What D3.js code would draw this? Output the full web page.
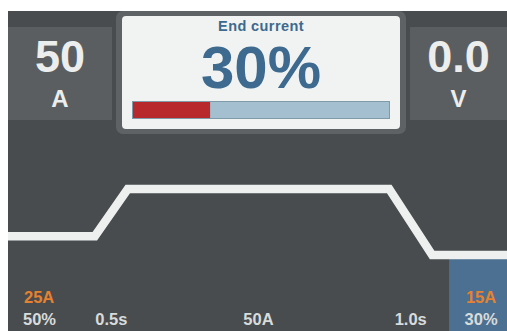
<!DOCTYPE html>
<html><head><meta charset="utf-8">
<script src="https://cdn.jsdelivr.net/npm/d3@7"></script>
<style>html,body{margin:0;padding:0;background:#fff;overflow:hidden}svg{display:block}text{font-family:"Liberation Sans",Arial,sans-serif;font-weight:700}</style>
</head><body><div id="c"></div>
<script>
// Weld current profile (schematic x in % of panel width, current in A)
const profileX = [0, 17.4, 24.0, 76.4, 85.0, 100];
const profileA = [25, 25, 50, 50, 15, 15];
const startCurrent = 25, startPct = "50%";
const upslope = "0.5s", mainCurrent = "50A", downslope = "1.0s";
const endCurrent = 15, endPct = 30;
const readoutCurrent = "50", readoutCurrentUnit = "A";
const readoutVoltage = "0.0", readoutVoltageUnit = "V";
const title = "End current";

const W = 507, H = 331;
const svg = d3.select("#c").append("svg").attr("width", W).attr("height", H);
const panelX = 8, panelY = 11;
svg.append("rect").attr("x", panelX).attr("y", panelY).attr("width", W - panelX).attr("height", H - panelY).attr("fill", "#494c4e");

const x = d3.scaleLinear().domain([0, 100]).range([panelX, W]);
const y = d3.scaleLinear().domain([15, 50]).range([255, 189]);
const pts = profileX.map((v, i) => [x(v), y(profileA[i])]);

// selected end-current region
const endStart = 88.4;
svg.append("rect").attr("x", x(endStart)).attr("y", y(endCurrent) + 4)
  .attr("width", x(100) - x(endStart)).attr("height", H - y(endCurrent) - 4).attr("fill", "#4b7092");

svg.append("path").attr("d", d3.line()(pts)).attr("fill", "none")
  .attr("stroke", "#eef0ef").attr("stroke-width", 8.5).attr("stroke-linejoin", "miter");

// side readouts
function readout(bx, bw, val, unit) {
  svg.append("rect").attr("x", bx).attr("y", 27).attr("width", bw).attr("height", 93).attr("fill", "#5b5e60");
  svg.append("text").attr("x", bx + bw / 2).attr("y", 72).attr("text-anchor", "middle").attr("font-size", 45).attr("fill", "#eceeed").text(val);
  svg.append("text").attr("x", bx + bw / 2).attr("y", 107).attr("text-anchor", "middle").attr("font-size", 24).attr("fill", "#eceeed").text(unit);
}
readout(8, 104, readoutCurrent, readoutCurrentUnit);
readout(410, 97, readoutVoltage, readoutVoltageUnit);

// center card
svg.append("rect").attr("x", 116).attr("y", 11).attr("width", 290).attr("height", 123).attr("rx", 7).attr("fill", "#5f6264");
svg.append("rect").attr("x", 122).attr("y", 16).attr("width", 278).attr("height", 113).attr("rx", 4).attr("fill", "#f1f3f2");
svg.append("text").attr("x", 261).attr("y", 31).attr("text-anchor", "middle").attr("font-size", 14.5).attr("letter-spacing", 0.4).attr("fill", "#3d6a8e").text(title);
svg.append("text").attr("x", 261).attr("y", 88).attr("text-anchor", "middle").attr("font-size", 60).attr("fill", "#3d6a8e").text(endPct + "%");
const bar = d3.scaleLinear().domain([0, 100]).range([132.5, 389.5]);
svg.append("rect").attr("x", bar(0)).attr("y", 101.5).attr("width", bar(100) - bar(0)).attr("height", 17).attr("fill", "#a4bfcf").attr("stroke", "#7f9aa8").attr("stroke-width", 1);
svg.append("rect").attr("x", bar(0) + 0.5).attr("y", 102).attr("width", bar(endPct) - bar(0)).attr("height", 16).attr("fill", "#b8292e");

// bottom labels
const orange = "#e6812f", grey = "#d8dbdb";
function lab(px, py, t, c, anchor) {
  svg.append("text").attr("x", px).attr("y", py).attr("text-anchor", anchor || "middle").attr("font-size", 16.5).attr("fill", c).text(t);
}
lab(x(0) + 16, 303, startCurrent + "A", orange, "start");
lab(x(0) + 15, 325, startPct, grey, "start");
lab((x(profileX[1]) + x(profileX[2])) / 2, 325, upslope, grey);
lab((x(profileX[2]) + x(profileX[3])) / 2, 325, mainCurrent, grey);
lab((x(profileX[3]) + x(profileX[4])) / 2, 325, downslope, grey);
lab((x(endStart) + x(100)) / 2 + 3, 303, endCurrent + "A", orange);
lab((x(endStart) + x(100)) / 2 + 3, 325, endPct + "%", grey);
</script></body></html>
